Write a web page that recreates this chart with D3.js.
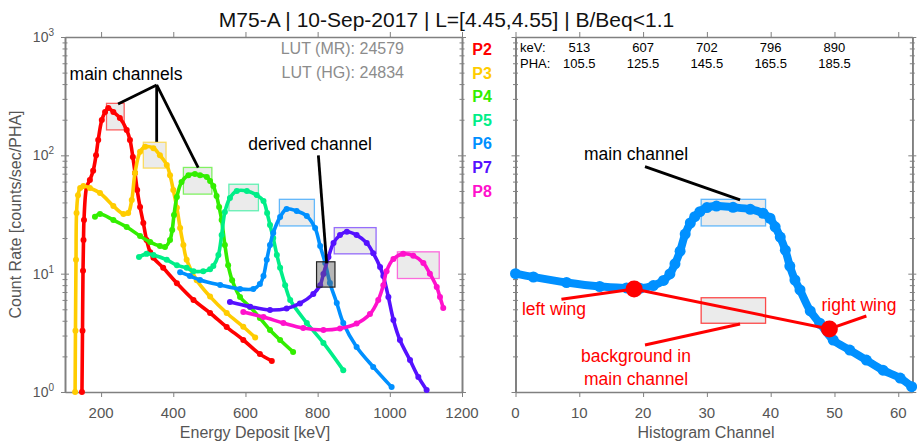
<!DOCTYPE html>
<html>
<head>
<meta charset="utf-8">
<script src="https://cdnjs.cloudflare.com/ajax/libs/d3/7.8.5/d3.min.js"></script>
<style>
  body { margin: 0; background: #fff; }
  svg text { font-family: "Liberation Sans", Arial, Helvetica, sans-serif; }
</style>
</head>
<body>
<div id="chart"></div>
<script>
// ---- data (keV, counts/sec/PHA) ----
const channels = ["P2", "P3", "P4", "P5", "P6", "P7", "P8"];
const colors = ["#ff0000", "#ffcc00", "#33ee00", "#00ee88", "#0090ff", "#5511ff", "#ff11cc"];

const p2 = [[147,1.0],[148.5,3.3],[149.9,10.6],[151.3,19.3],[152.6,28.4],[160,54],[169,62],[178,74],[186,100],[192,135],
  [202,199],[211,232],[220,251],[234,232],[252,207],[271,164],[280,135],[288,97],[294,71],[300,51],[308,36.6],[317,26.8],
  [326,19.3],[336,15.2],[345,13.6],[372,11.2],[410,8.3],[456,6.0],[502,4.65],[548,3.54],[594,2.75],[640,2.09],[673,1.83]];
const p3 = [[128,1.0],[129,3.3],[130.5,13.1],[132,32.6],[136,46],[142,53],[151,55],[169,53],[197,48],[234,37.3],[262,31.9],
  [275,32.6],[285,42],[294,71],[308,107],[322,118],[345,115],[363,100],[382,83],[391,68],[400,51],[410,36],[419,24.3],
  [428,17.5],[437,13.1],[465,8.8],[502,6.4],[548,4.65],[594,3.56],[627,2.89]];
const p4 = [[183,30.3],[197,31.9],[234,28.4],[271,24.8],[308,20.8],[336,18.5],[363,17.1],[377,16.8],[391,19.3],[397,23.4],
  [402,31.3],[410,44.5],[423,59.5],[442,68],[460,69.6],[474,68],[493,65.6],[502,60.7],[511,55],[520,45.3],[527,36.6],
  [534,28.4],[543,17.5],[552,11.8],[563,8.8],[585,6.35],[613,5.23],[640,4.22],[668,3.34],[696,2.75],[732,2.18]];
const p5 = [[305,13.8],[326,14.7],[345,14.4],[382,13.1],[410,11.8],[437,11.2],[456,10.5],[483,10.5],[502,10.9],[511,11.6],
  [525,14.4],[534,21.2],[543,33.2],[557,43.6],[576,50],[604,50],[631,46.2],[650,41.1],[660,32.6],[668,25.8],[677,20],
  [687,14.4],[696,11.2],[710,8.0],[724,6.0],[770,3.83],[816,2.6],[871,1.53]];
const p6 = [[419,10.3],[446,9.56],[474,8.84],[530,8.02],[585,7.42],[622,7.42],[640,8.18],[650,9.56],[659,13.1],[668,17.5],
  [677,22.1],[696,30.1],[714,35.2],[742,33.9],[770,30.7],[793,24.3],[807,17.1],[821,12.3],[834,8.34],[853,5.65],
  [871,3.83],[908,2.4],[954,1.63],[1005,1.1]];
const p7 = [[557,5.76],[613,5.26],[668,4.93],[714,5.08],[751,5.6],[788,6.73],[807,8.0],[816,9.94],[830,13.8],[844,18.2],
  [862,21.2],[881,22.6],[908,21.2],[936,18.2],[954,14.9],[973,11.4],[982,9.56],[996,6.35],[1010,4.06],[1028,2.75],
  [1056,1.86],[1079,1.34],[1102,1.04]];
const p8 = [[594,4.74],[650,4.3],[705,3.83],[760,3.47],[816,3.34],[862,3.44],[908,3.79],[945,4.56],[968,6.0],[982,8.0],
  [991,10.5],[1010,13.3],[1037,14.7],[1065,14.2],[1093,12.3],[1111,10],[1130,7.72],[1139,6.35],[1148,5.13]];
const series = [p2, p3, p4, p5, p6, p7, p8];

// main-channel windows: [keV lo, keV hi, rate lo, rate hi]
const mainBoxes = [[215,264,164,275],[317,380,78,129],[428,507,47,79],[554,636,34,57],[694,791,25.3,42.5],[846,962,14.7,24.5],[1021,1137,9.1,15.3]];
const derivedBox = [797, 848, 7.7, 12.6];

// P6 histogram: [channel, rate]
const hist = [[0,10],[2.8,9.37],[8,8.42],[13.2,7.79],[17.4,7.57],[19.5,7.52],[21.6,7.94],[23.2,8.76],[24.2,9.94],[25,12.1],
  [25.8,15.5],[26.6,21.6],[27.4,26.8],[28.1,30.3],[28.9,33.4],[30,36.2],[31.5,37.3],[34.1,36.4],[36.8,35],[38.8,32.4],
  [39.9,29.4],[40.7,24.9],[41.5,20.4],[42.3,15.8],[43,11.6],[43.8,8.84],[44.6,7.28],[46.2,4.84],[47.7,3.81],[49.8,2.75],
  [52.4,2.26],[55,1.86],[57.6,1.53],[60.3,1.31],[62.1,1.11]];
const histBox = [29.1, 39.2, 25.3, 42.5];
const bgBox = [29.1, 39.2, 3.81, 6.26];
const wings = [[18.6, 7.42], [49.2, 3.41]];

const keVTicks = [200, 400, 600, 800, 1000, 1200];
const chanTicks = [0, 10, 20, 30, 40, 50, 60];
const markChannels = [10, 20, 30, 40, 50];
const markKeV = ["513", "607", "702", "796", "890"];
const markPHA = ["105.5", "125.5", "145.5", "165.5", "185.5"];
const decades = [1, 10, 100, 1000];
const minors = [2,3,4,5,6,7,8,9,20,30,40,50,60,70,80,90,200,300,400,500,600,700,800,900];

// ---- layout ----
const width = 917, height = 444;
const axisColor = "#808080", labelColor = "#555";

const svg = d3.select("#chart").append("svg")
    .attr("width", width)
    .attr("height", height);

const xL = d3.scaleLinear().domain([100, 1200]).range([65, 462]);
const xR = d3.scaleLinear().domain([0, 62.2]).range([515.5, 912.3]);
const y = d3.scaleLog().domain([1, 1000]).range([392, 37]);

function frame(x, xticks) {
    const [x0, x1] = x.range(), [y0, y1] = y.range();
    const g = svg.append("g");
    const style = sel => { sel.selectAll("path,line").attr("stroke", axisColor); sel.selectAll("text").remove(); };
    g.append("g").attr("transform", `translate(0,${y0})`)
        .call(d3.axisBottom(x).tickValues(xticks).tickSize(5).tickSizeOuter(0)).call(style);
    g.append("g").attr("transform", `translate(0,${y1})`)
        .call(d3.axisTop(x).tickValues(xticks).tickSize(5).tickSizeOuter(0)).call(style);
    [[x0, d3.axisLeft], [x1, d3.axisRight]].forEach(([xx, ax]) => {
        [1, -1].forEach(s => {
            g.append("g").attr("transform", `translate(${xx},0)`)
                .call(ax(y).tickValues(decades).tickSize(4 * s).tickSizeOuter(0)).call(style);
            g.append("g").attr("transform", `translate(${xx},0)`)
                .call(ax(y).tickValues(minors).tickSize(2.5 * s).tickSizeOuter(0)).call(style);
        });
    });
    g.selectAll(".domain").attr("stroke-width", 1.3);
    g.selectAll("text.tl").data(xticks).join("text")
        .attr("x", d => x(d)).attr("y", 418)
        .attr("text-anchor", "middle").attr("font-size", 15).attr("fill", labelColor)
        .text(d => d);
}

frame(xL, keVTicks);
frame(xR, chanTicks);

// y tick labels (left panel only)
const yl = svg.append("g").selectAll("text").data(decades).join("text")
    .attr("x", 54).attr("y", d => y(d) + 5)
    .attr("text-anchor", "end").attr("font-size", 14).attr("fill", labelColor);
yl.append("tspan").text("10");
yl.append("tspan").attr("dy", -6).attr("font-size", 10).text(d => Math.round(Math.log10(d)));

// titles
svg.append("text").attr("x", 446.5).attr("y", 27).attr("text-anchor", "middle")
    .attr("font-size", 21).attr("fill", "#111")
    .text("M75-A | 10-Sep-2017 | L=[4.45,4.55] | B/Beq<1.1");
svg.append("text").attr("x", 255).attr("y", 438).attr("text-anchor", "middle")
    .attr("font-size", 16).attr("fill", labelColor).text("Energy Deposit [keV]");
svg.append("text").attr("x", 706).attr("y", 438).attr("text-anchor", "middle")
    .attr("font-size", 16).attr("fill", labelColor).text("Histogram Channel");
svg.append("text").attr("transform", "translate(21,214.5) rotate(-90)").attr("text-anchor", "middle")
    .attr("font-size", 16).attr("fill", labelColor).text("Count Rate [counts/sec/PHA]");

// LUT info
svg.append("text").attr("x", 404).attr("y", 54).attr("text-anchor", "end")
    .attr("font-size", 16).attr("fill", "#8c8c8c").text("LUT (MR): 24579");
svg.append("text").attr("x", 404).attr("y", 78).attr("text-anchor", "end")
    .attr("font-size", 16).attr("fill", "#8c8c8c").text("LUT (HG): 24834");

// legend
svg.append("g").selectAll("text").data(channels).join("text")
    .attr("x", 482).attr("y", (d, i) => 55 + i * 23.6)
    .attr("text-anchor", "middle").attr("font-size", 16).attr("font-weight", "bold")
    .attr("fill", (d, i) => colors[i]).text(d => d);

// ---- left panel ----
const left = svg.append("g");
left.selectAll("rect.main").data(mainBoxes).join("rect")
    .attr("x", d => xL(d[0])).attr("width", d => xL(d[1]) - xL(d[0]))
    .attr("y", d => y(d[3])).attr("height", d => y(d[2]) - y(d[3]))
    .attr("fill", "#ebebeb").attr("stroke", (d, i) => colors[i]).attr("stroke-opacity", 0.6).attr("stroke-width", 1.3);

const lineL = d3.line().x(d => xL(d[0])).y(d => y(d[1])).curve(d3.curveCatmullRom);
series.forEach((s, i) => {
    const g = left.append("g");
    g.append("path").attr("d", lineL(s)).attr("fill", "none")
        .attr("stroke", colors[i]).attr("stroke-width", 3.6);
    g.selectAll("circle").data(s).join("circle")
        .attr("cx", d => xL(d[0])).attr("cy", d => y(d[1])).attr("r", 3)
        .attr("fill", colors[i]);
});

left.append("rect")
    .attr("x", xL(derivedBox[0])).attr("width", xL(derivedBox[1]) - xL(derivedBox[0]))
    .attr("y", y(derivedBox[3])).attr("height", y(derivedBox[2]) - y(derivedBox[3]))
    .attr("fill", "#606060").attr("fill-opacity", 0.45).attr("stroke", "#222").attr("stroke-width", 1.2);

// annotations (data coords)
const apex = [354, 393];
[[247, 272], [354, 130], [469, 78.6]].forEach(p => {
    left.append("line").attr("x1", xL(apex[0])).attr("y1", y(apex[1]))
        .attr("x2", xL(p[0])).attr("y2", y(p[1])).attr("stroke", "#000").attr("stroke-width", 2.8);
});
left.append("text").attr("x", 126).attr("y", 80).attr("text-anchor", "middle")
    .attr("font-size", 17.5).text("main channels");
left.append("line").attr("x1", xL(802)).attr("y1", y(100)).attr("x2", xL(825)).attr("y2", y(12.2))
    .attr("stroke", "#000").attr("stroke-width", 2.8);
left.append("text").attr("x", 310).attr("y", 150).attr("text-anchor", "middle")
    .attr("font-size", 17.5).text("derived channel");

// ---- right panel ----
const right = svg.append("g");
svg.append("text").attr("x", 520).attr("y", 52).attr("font-size", 13).text("keV:");
svg.append("text").attr("x", 520).attr("y", 67.5).attr("font-size", 13).text("PHA:");
svg.append("g").selectAll("text").data(markChannels).join("text")
    .attr("x", d => xR(d)).attr("y", 52).attr("text-anchor", "middle").attr("font-size", 13)
    .text((d, i) => markKeV[i]);
svg.append("g").selectAll("text").data(markChannels).join("text")
    .attr("x", d => xR(d)).attr("y", 67.5).attr("text-anchor", "middle").attr("font-size", 13)
    .text((d, i) => markPHA[i]);

right.append("rect")
    .attr("x", xR(histBox[0])).attr("width", xR(histBox[1]) - xR(histBox[0]))
    .attr("y", y(histBox[3])).attr("height", y(histBox[2]) - y(histBox[3]))
    .attr("fill", "#ebebeb").attr("stroke", colors[4]).attr("stroke-opacity", 0.6).attr("stroke-width", 1.3);
right.append("rect")
    .attr("x", xR(bgBox[0])).attr("width", xR(bgBox[1]) - xR(bgBox[0]))
    .attr("y", y(bgBox[3])).attr("height", y(bgBox[2]) - y(bgBox[3]))
    .attr("fill", "#ebebeb").attr("stroke", "#ff0000").attr("stroke-opacity", 0.7).attr("stroke-width", 1.3);

const lineR = d3.line().x(d => xR(d[0])).y(d => y(d[1])).curve(d3.curveCatmullRom);
right.append("path").attr("d", lineR(hist)).attr("fill", "none")
    .attr("stroke", colors[4]).attr("stroke-width", 8);
right.selectAll("circle.h").data(hist).join("circle")
    .attr("cx", d => xR(d[0])).attr("cy", d => y(d[1])).attr("r", 5.5)
    .attr("fill", colors[4]);

// wing line & markers
right.append("line").attr("x1", xR(wings[0][0])).attr("y1", y(wings[0][1]))
    .attr("x2", xR(wings[1][0])).attr("y2", y(wings[1][1]))
    .attr("stroke", "#ff0000").attr("stroke-width", 3);
right.selectAll("circle.w").data(wings).join("circle")
    .attr("cx", d => xR(d[0])).attr("cy", d => y(d[1])).attr("r", 8.5).attr("fill", "#ff0000");

const redLine = (a, b) => right.append("line")
    .attr("x1", xR(a[0])).attr("y1", y(a[1])).attr("x2", xR(b[0])).attr("y2", y(b[1]))
    .attr("stroke", "#ff0000").attr("stroke-width", 3);
redLine([7.2, 6.07], wings[0]);
redLine([55, 4.39], wings[1]);
redLine([20.3, 2.5], [35.2, 3.75]);
right.append("line").attr("x1", xR(20.3)).attr("y1", y(80.2)).attr("x2", xR(35.2)).attr("y2", y(42))
    .attr("stroke", "#000").attr("stroke-width", 2.8);

right.append("text").attr("x", 636).attr("y", 160).attr("text-anchor", "middle")
    .attr("font-size", 17.5).text("main channel");
right.append("text").attr("x", 554).attr("y", 315).attr("text-anchor", "middle")
    .attr("font-size", 17.5).attr("fill", "#ff0000").text("left wing");
right.append("text").attr("x", 859).attr("y", 311).attr("text-anchor", "middle")
    .attr("font-size", 17.5).attr("fill", "#ff0000").text("right wing");
right.append("text").attr("x", 636).attr("y", 362).attr("text-anchor", "middle")
    .attr("font-size", 17.5).attr("fill", "#ff0000").text("background in");
right.append("text").attr("x", 636).attr("y", 385).attr("text-anchor", "middle")
    .attr("font-size", 17.5).attr("fill", "#ff0000").text("main channel");
</script>
</body>
</html>
